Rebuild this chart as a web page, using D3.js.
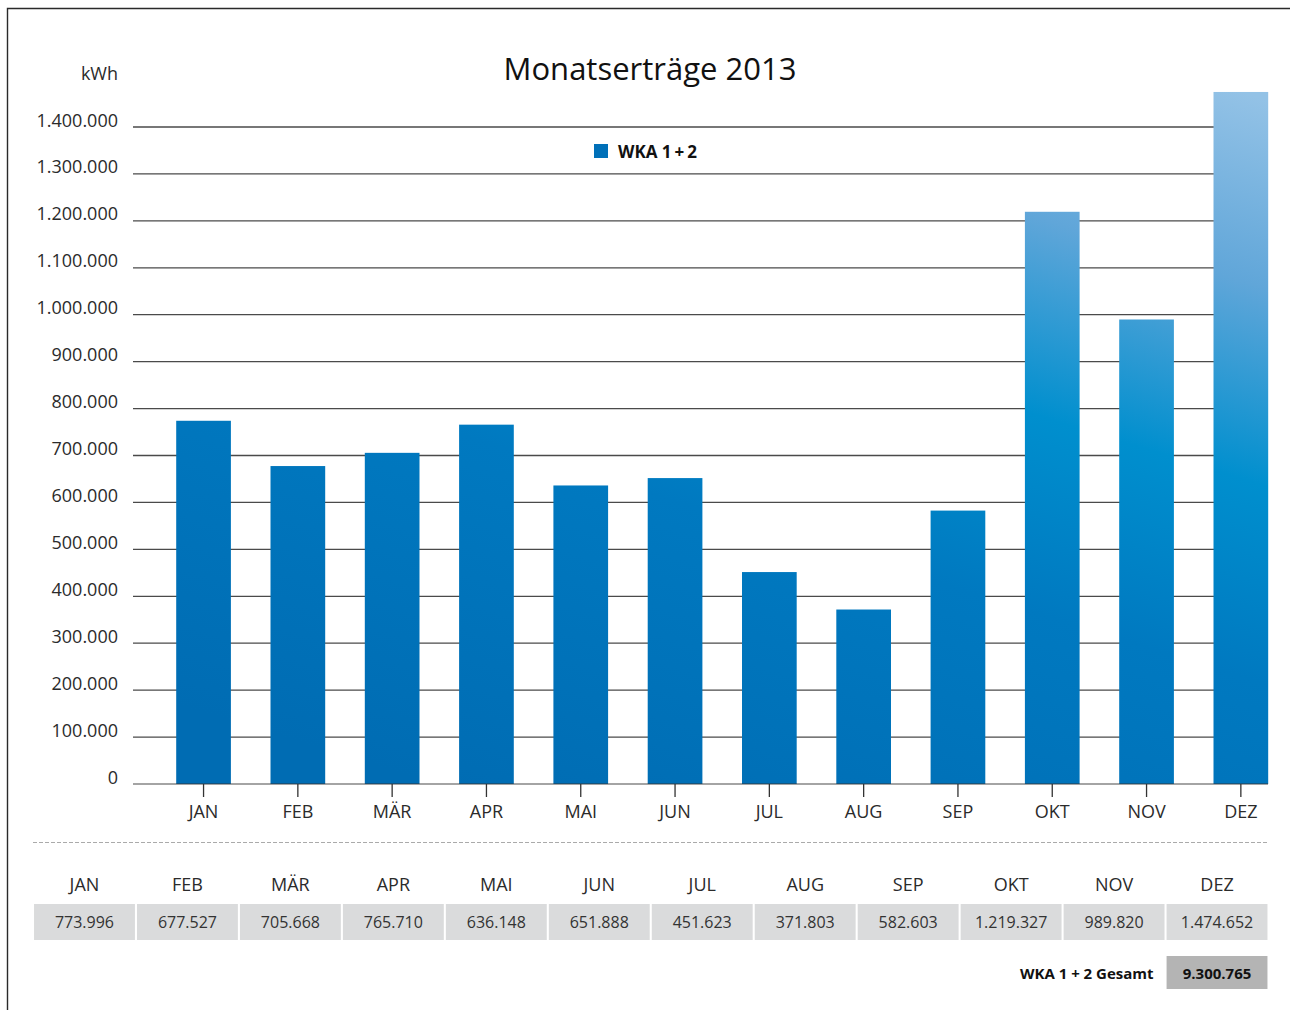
<!DOCTYPE html>
<html>
<head>
<meta charset="utf-8">
<script src="https://cdn.jsdelivr.net/npm/d3@7"></script>
<style>
  html, body { margin: 0; padding: 0; background: #fff; }
  svg { display: block; font-family: "Open Sans", "Noto Sans", sans-serif; }
</style>
</head>
<body>
<svg id="chart" width="1290" height="1010"></svg>
<script>
const title = "Monatserträge 2013";
const unitLabel = "kWh";
const seriesName = ["WKA 1", "+", "2"];
const totalLabel = "WKA 1 + 2 Gesamt";
const months = ["JAN","FEB","MÄR","APR","MAI","JUN","JUL","AUG","SEP","OKT","NOV","DEZ"];
const values = [773996, 677527, 705668, 765710, 636148, 651888, 451623, 371803, 582603, 1219327, 989820, 1474652];
const yTicks = [0,100000,200000,300000,400000,500000,600000,700000,800000,900000,1000000,1100000,1200000,1300000,1400000];

const de = d3.formatLocale({decimal: ",", thousands: ".", grouping: [3], currency: ["", " €"]});
const fmt = de.format(",d");

const svg = d3.select("#chart");

// frame
svg.append("path")
  .attr("d", "M7.5,1010 L7.5,8.5 L1290,8.5")
  .attr("fill", "none").attr("stroke", "#2a2a2a").attr("stroke-width", 1.4);

const x = d3.scaleBand().domain(months).range([156.4, 1288]).paddingInner(0.42).paddingOuter(0.21);
const y = d3.scaleLinear().domain([0, 1400000]).range([784, 127]);

// gradient (user space, slightly tilted)
const defs = svg.append("defs");
const grad = defs.append("linearGradient").attr("id", "barGrad")
  .attr("gradientUnits", "userSpaceOnUse")
  .attr("x1", 1240).attr("y1", 92).attr("x2", 973.6).attr("y2", 951.5);
[[0, "#93c2e6"], [0.2, "#60a6d9"], [0.41, "#008fce"], [0.62, "#0079c0"], [1, "#006cb3"]]
  .forEach(([o, c]) => grad.append("stop").attr("offset", o).attr("stop-color", c));

// gridlines
svg.append("g").selectAll("line").data(yTicks.filter(d => d > 0)).join("line")
  .attr("x1", 133).attr("x2", 1268)
  .attr("y1", d => y(d)).attr("y2", d => y(d))
  .attr("stroke", "#4a4a4a").attr("stroke-width", 1.3);

// y labels
svg.append("g").selectAll("text").data(yTicks).join("text")
  .attr("x", 118).attr("y", d => y(d) - 0.5)
  .attr("text-anchor", "end").attr("font-size", 18).attr("fill", "#2b2b2b")
  .text(d => fmt(d));

svg.append("text").attr("x", 118).attr("y", 80).attr("text-anchor", "end")
  .attr("font-size", 18).attr("fill", "#2b2b2b").text(unitLabel);

// title
svg.append("text").attr("x", 650).attr("y", 80).attr("text-anchor", "middle")
  .attr("font-size", 31).attr("fill", "#111").text(title);

// legend
svg.append("rect").attr("x", 594).attr("y", 144).attr("width", 14).attr("height", 14).attr("fill", "#0070b8");
const lt = svg.append("text").attr("x", 618).attr("y", 158).attr("font-size", 17).attr("font-weight", "bold")
  .attr("fill", "#111");
lt.append("tspan").text(seriesName[0]);
lt.append("tspan").attr("dx", 3).text(seriesName[1]);
lt.append("tspan").attr("dx", 3).text(seriesName[2]);

// bars
svg.append("g").selectAll("rect").data(values).join("rect")
  .attr("x", (d, i) => x(months[i]))
  .attr("width", x.bandwidth())
  .attr("y", d => y(d))
  .attr("height", d => y(0) - y(d))
  .attr("fill", "url(#barGrad)");

// x axis
svg.append("line").attr("x1", 133).attr("x2", 1268).attr("y1", 784).attr("y2", 784)
  .attr("stroke", "#333").attr("stroke-opacity", 0.6).attr("stroke-width", 1.5);
const xg = svg.append("g");
xg.selectAll("line").data(months).join("line")
  .attr("x1", d => x(d) + x.bandwidth() / 2).attr("x2", d => x(d) + x.bandwidth() / 2)
  .attr("y1", 784).attr("y2", 797).attr("stroke", "#333").attr("stroke-width", 1.3);
xg.selectAll("text").data(months).join("text")
  .attr("x", d => x(d) + x.bandwidth() / 2).attr("y", 818)
  .attr("text-anchor", "middle").attr("font-size", 18).attr("fill", "#2b2b2b")
  .text(d => d);

// dashed separator
svg.append("line").attr("x1", 33).attr("x2", 1268).attr("y1", 842.5).attr("y2", 842.5)
  .attr("stroke", "#aaa").attr("stroke-width", 1).attr("stroke-dasharray", "4,2");

// table
const tx = d3.scaleBand().domain(months).range([33, 1268.5]).paddingInner(0.02).paddingOuter(0.01);
const tg = svg.append("g");
tg.selectAll("text.h").data(months).join("text").attr("class", "h")
  .attr("x", d => tx(d) + tx.bandwidth() / 2).attr("y", 891)
  .attr("text-anchor", "middle").attr("font-size", 18).attr("fill", "#2b2b2b").text(d => d);
tg.selectAll("rect").data(values).join("rect")
  .attr("x", (d, i) => tx(months[i])).attr("width", tx.bandwidth())
  .attr("y", 904).attr("height", 36).attr("fill", "#dadbdc");
tg.selectAll("text.v").data(values).join("text").attr("class", "v")
  .attr("x", (d, i) => tx(months[i]) + tx.bandwidth() / 2).attr("y", 928)
  .attr("text-anchor", "middle").attr("font-size", 16).attr("fill", "#333").text(d => fmt(d));

// total
const total = d3.sum(values);
const lastX = tx(months[months.length - 1]);
svg.append("rect").attr("x", lastX).attr("width", tx.bandwidth()).attr("y", 956).attr("height", 33).attr("fill", "#b4b4b4");
svg.append("text").attr("x", lastX + tx.bandwidth() / 2).attr("y", 979)
  .attr("text-anchor", "middle").attr("font-size", 15).attr("font-weight", "bold").attr("fill", "#111").text(fmt(total));
svg.append("text").attr("x", lastX - 13).attr("y", 979)
  .attr("text-anchor", "end").attr("font-size", 15).attr("font-weight", "bold").attr("fill", "#111").text(totalLabel);
</script>
</body>
</html>
